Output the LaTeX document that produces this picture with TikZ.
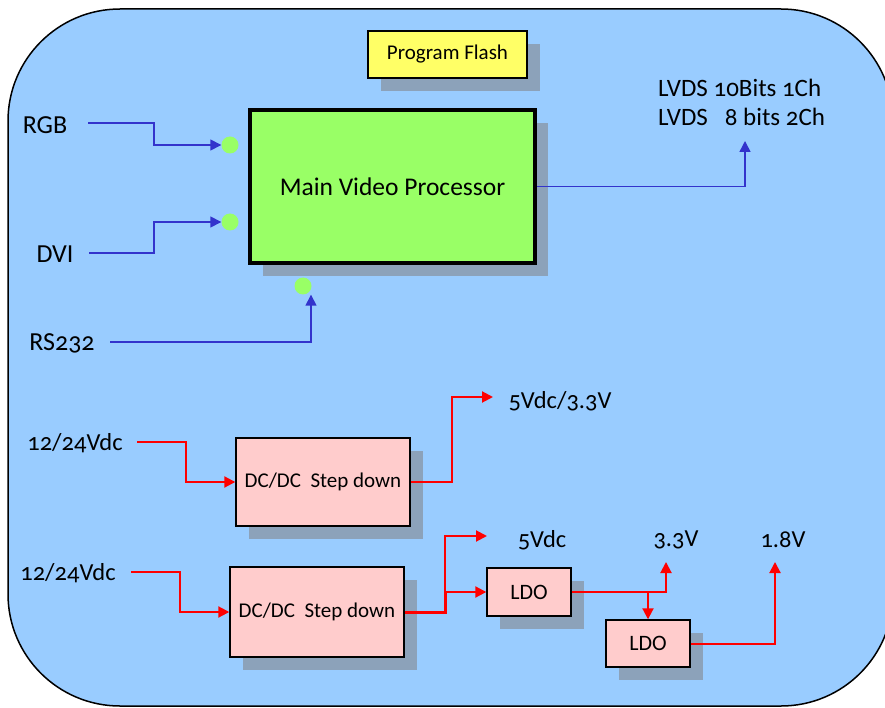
\documentclass[tikz,border=0pt]{standalone}
\usepackage{fontspec}
\setmainfont{Carlito}[Numbers=OldStyle]
\usetikzlibrary{arrows.meta,shadows}
\definecolor{bg}{HTML}{99CCFF}
\definecolor{shad}{HTML}{8CA2BA}
\definecolor{grn}{HTML}{99FF66}
\definecolor{ylw}{HTML}{FFFF66}
\definecolor{pnk}{HTML}{FFCCCC}
\definecolor{blu}{HTML}{3333CC}
\definecolor{rd}{HTML}{FF0000}
\tikzset{
  shd/.style={drop shadow={shadow xshift=13pt,shadow yshift=-13pt,fill=shad,opacity=1}},
  pbox/.style={draw=black,line width=1.4pt,fill=pnk,shd,inner sep=0pt,font=\fontsize{21}{24}\selectfont},
  lbl/.style={inner sep=0pt,font=\fontsize{26}{30}\selectfont},
  vlbl/.style={inner sep=0pt,font=\fontsize{24.5}{28}\selectfont},
  dot/.style={circle,fill=grn,minimum size=17pt,inner sep=0pt},
  bl/.style={draw=blu,line width=1.5pt},
  rl/.style={draw=rd,line width=2pt},
  tip/.style={-{Triangle[length=11pt,width=11pt]}}
}
\begin{document}
\begin{tikzpicture}[x=1pt,y=-1pt]
\useasboundingbox (0,0) rectangle (885,708);
\clip (0,0) rectangle (885,708);
\draw[fill=bg,line width=1.5pt,rounded corners=112pt] (8,9) rectangle (893,706);

% boxes
\node[draw=black,line width=1.4pt,fill=ylw,shd,minimum width=159pt,minimum height=47pt,inner sep=0pt,font=\fontsize{21}{24}\selectfont] (flash) at (447.5,54.5) {Program Flash};
\node[draw=black,line width=4pt,fill=grn,shd,minimum width=285pt,minimum height=153pt,inner sep=0pt,font=\fontsize{25.5}{30}\selectfont] (main) at (392.5,186.5) {Main Video Processor};

\node[dot] (d1) at (230,145) {};
\node[dot] (d2) at (230,222) {};
\node[dot] (d3) at (303,286) {};

\node[lbl] (rgb) at (45,125) {RGB};
\node[lbl] (dvi) at (55,254) {DVI};
\node[lbl] (rs) at (62,343) {RS232};
\node[inner sep=0pt,anchor=west,align=left,font=\fontsize{25}{29}\selectfont] (lvds) at (658,102) {LVDS 10Bits 1Ch\\LVDS \ \ 8 bits 2Ch};

\coordinate (rgbS) at (88,123);
\coordinate (dviS) at (89,253);
\coordinate (rsS) at (110,342);
\coordinate (lvdsT) at (745,141);

\draw[bl,tip] (rgbS) -- (154,123) |- (d1.west);
\draw[bl,tip] (dviS) -- (154,253) |- (d2.west);
\draw[bl,tip] (rsS) -| ([xshift=8pt]d3.south);
\draw[bl,tip] (main.east) -| (lvdsT);

% power
\node[pbox,minimum width=174pt,minimum height=88pt] (dc1) at (323,482) {DC/DC\ \ Step down};
\node[pbox,minimum width=174pt,minimum height=90pt] (dc2) at (317,612) {DC/DC\ \ Step down};
\node[pbox,minimum width=84pt,minimum height=48pt,font=\fontsize{22}{26}\selectfont] (ldo1) at (529,592) {LDO};
\node[pbox,minimum width=84pt,minimum height=47pt,font=\fontsize{22}{26}\selectfont] (ldo2) at (648,643.5) {LDO};

\node[vlbl] (va) at (75,443) {12/24Vdc};
\node[vlbl] (vb) at (68,573) {12/24Vdc};
\node[vlbl] (o1) at (560,401) {5Vdc/3.3V};
\node[vlbl] (o5) at (542,540) {5Vdc};
\node[vlbl] (o33) at (676,540) {3.3V};
\node[vlbl] (o18) at (783,540) {1.8V};

\coordinate (vaS) at (137,442);
\coordinate (vbS) at (131,572);
\coordinate (o1T) at (493,397);
\coordinate (o5T) at (487,536);
\coordinate (j) at (445,592);
\coordinate (j2) at (648,592);
\coordinate (o33T) at (666,562);
\coordinate (o18T) at (775,562);

\draw[rl,tip] (vaS) -- (186,442) |- (dc1.west);
\draw[rl,tip] (dc1.east) -- (452,482) |- (o1T);
\draw[rl,tip] (vbS) -- (180,572) |- (dc2.west);
\draw[draw=rd,line width=3pt] (dc2.east) -| (j);
\draw[rl,tip] (j) -- (ldo1.west);
\draw[rl,tip] (j) |- (o5T);
\draw[rl,tip] (ldo1.east) -| (o33T);
\draw[rl,tip] (j2) -- (ldo2.north);
\draw[rl,tip] (ldo2.east) -| (o18T);
\end{tikzpicture}
\end{document}
